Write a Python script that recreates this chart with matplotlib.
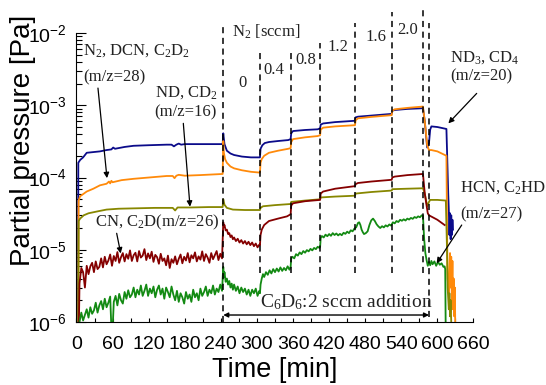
import numpy as np
import matplotlib
matplotlib.use("Agg")
import matplotlib.pyplot as plt
from matplotlib.ticker import MultipleLocator, LogLocator, NullFormatter

plt.rcParams["font.family"] = "Liberation Sans"
plt.rcParams["mathtext.default"] = "regular"

OFF = 5e-7  # below the plotted range: signal not yet up / instrument shut down

# --- m/z=20 (ND3, CD4) ---
t_mz20 = [0, 2.5, 3, 6, 11, 17, 28, 39, 50, 58, 61, 64, 80, 95, 120, 150, 158, 162, 166,
          170, 174, 180, 205, 243, 244, 246, 250, 256, 262, 275, 290, 305, 306, 309, 313,
          320, 335, 352, 356, 357, 360, 380, 401, 405, 406, 410, 430, 463, 464, 468, 490,
          524, 525, 529, 550, 576, 579, 583, 586, 588, 590, 600, 615, 617, 618, 619, 620,
          621, 622, 623, 624, 625, 626]
p_mz20 = [OFF, OFF, 1.6e-4, 1.75e-4, 1.9e-4, 2.2e-4, 2.25e-4, 2.3e-4, 2.4e-4, 2.45e-4,
          2.6e-4, 2.5e-4, 2.65e-4, 2.75e-4, 2.8e-4, 2.85e-4, 2.85e-4, 2.7e-4, 2.85e-4,
          2.95e-4, 2.85e-4, 2.9e-4, 2.9e-4, 2.9e-4, 4.1e-4, 2.9e-4, 2.35e-4, 2.15e-4,
          2.05e-4, 1.95e-4, 1.9e-4, 1.9e-4, 2.5e-4, 2.8e-4, 3.0e-4, 3.1e-4, 3.2e-4,
          3.3e-4, 3.4e-4, 4.1e-4, 4.4e-4, 4.55e-4, 4.65e-4, 4.8e-4, 5.4e-4, 5.6e-4,
          5.85e-4, 6.1e-4, 6.8e-4, 6.95e-4, 7.2e-4, 7.6e-4, 8.4e-4, 8.6e-4, 8.9e-4,
          9.1e-4, 6.0e-4, 2.6e-4, 3.0e-4, 4.6e-4, 5.1e-4, 5.0e-4, 4.7e-4, 1.2e-4, 6e-5,
          3.5e-5, 1.6e-5, 3.2e-5, 1.4e-5, 3.0e-5, 1.6e-5, 2.6e-5, 1.9e-5]

# --- m/z=28 (N2, DCN, C2D2) ---
t_mz28 = [0, 3, 3.5, 6, 17, 28, 39, 50, 54, 56, 58, 60, 75, 95, 120, 150, 160, 163, 166,
          170, 180, 205, 243, 244, 245, 247, 250, 256, 262, 275, 290, 305, 306, 308, 312,
          320, 335, 352, 356, 357, 360, 380, 401, 405, 406, 410, 430, 463, 464, 468, 490,
          524, 525, 529, 550, 576, 579, 583, 586, 590, 600, 615, 616, 617, 619, 620, 621,
          622, 623, 624, 625, 626, 627, 628, 629, 630]
p_mz28 = [OFF, OFF, 4.8e-5, 5.5e-5, 6.4e-5, 7.0e-5, 7.8e-5, 8.2e-5, 8.8e-5, 8.3e-5,
          9.0e-5, 8.6e-5, 9.2e-5, 9.6e-5, 1.0e-4, 1.05e-4, 1.05e-4, 9.8e-5, 1.06e-4,
          1.09e-4, 1.06e-4, 1.08e-4, 1.12e-4, 3.2e-4, 2.2e-4, 1.8e-4, 1.6e-4, 1.42e-4,
          1.34e-4, 1.26e-4, 1.2e-4, 1.17e-4, 1.6e-4, 1.8e-4, 2.0e-4, 2.2e-4, 2.35e-4,
          2.5e-4, 2.55e-4, 3.1e-4, 3.4e-4, 3.6e-4, 3.75e-4, 3.85e-4, 4.6e-4, 4.9e-4,
          5.1e-4, 5.3e-4, 6.2e-4, 6.6e-4, 6.9e-4, 7.3e-4, 8.4e-4, 8.8e-4, 9.2e-4, 9.6e-4,
          6.0e-4, 2.8e-4, 2.4e-4, 2.4e-4, 2.3e-4, 2.0e-4, 2.0e-5, 4e-6, 2.5e-6, 5e-6,
          9e-6, 3e-6, 8e-6, 2e-6, 7e-6, 1.5e-6, 4e-6, 1.2e-6, 3e-6, OFF]

# --- m/z=16 (ND, CD2) ---
t_mz16 = [0, 3, 3.5, 6, 12, 20, 35, 50, 70, 100, 130, 160, 164, 168, 190, 220, 243, 244,
          246, 250, 260, 280, 305, 306, 310, 330, 356, 357, 380, 405, 406, 430, 463, 464,
          490, 524, 525, 550, 576, 579, 583, 586, 588, 600, 614, 616, 617, 619, 620, 621,
          622, 624]
p_mz16 = [OFF, OFF, 2.5e-5, 2.7e-5, 3.0e-5, 3.2e-5, 3.4e-5, 3.6e-5, 3.7e-5, 3.75e-5,
          3.8e-5, 3.8e-5, 3.5e-5, 3.85e-5, 3.85e-5, 3.9e-5, 3.9e-5, 5.0e-5, 4.2e-5,
          3.8e-5, 3.6e-5, 3.55e-5, 3.55e-5, 3.8e-5, 4.0e-5, 4.15e-5, 4.3e-5, 4.6e-5,
          4.8e-5, 5.0e-5, 5.3e-5, 5.45e-5, 5.6e-5, 6.0e-5, 6.3e-5, 6.6e-5, 6.9e-5,
          7.0e-5, 7.1e-5, 6.0e-5, 4.0e-5, 4.6e-5, 4.9e-5, 4.9e-5, 4.8e-5, 1.0e-5, 3e-6,
          1.5e-6, 2.5e-6, 1.2e-6, 2e-6, OFF]

# noisy start of the run, sampled every 3 min (values in units of 1e-6 Pa)
t_early = np.arange(5, 243, 3)

# --- m/z=26 (CN, C2D) ---
p_mz26_early = np.array([
    3.4, 5.6, 4.9, 3.0, 6.0, 4.6, 5.9, 6.6, 4.9, 6.9, 5.4, 5.8, 7.6, 5.7, 8.0, 6.3,
    7.1, 8.6, 6.0, 8.2, 7.0, 9.3, 6.6, 7.9, 9.0, 6.9, 8.7, 7.5, 9.8, 7.0, 8.4, 9.1,
    6.9, 9.6, 7.8, 8.3, 10.2, 7.2, 8.9, 7.6, 9.4, 6.8, 8.5, 7.9, 6.4, 8.8, 7.0, 7.6,
    6.1, 8.3, 5.6, 7.4, 6.6, 8.1, 6.3, 7.5, 8.6, 6.5, 8.0, 7.1, 9.0, 6.7, 8.4, 7.6,
    9.2, 6.9, 8.1, 7.3, 9.5, 7.0, 8.7, 7.8, 6.6, 9.0, 7.4, 8.4, 9.6, 7.2, 8.8, 7.6]) * 1e-6
t_mz26_late = [244, 245, 246, 248, 250, 252, 254, 256, 258, 260, 262, 265, 268, 271, 274,
               277, 280, 283, 286, 289, 292, 295, 298, 301, 304, 305, 306, 308, 312, 320,
               335, 350, 356, 357, 360, 380, 405, 406, 410, 430, 463, 464, 468, 490, 524,
               525, 529, 550, 576, 579, 584, 586, 600, 612]
p_mz26_late = np.array([
    24, 21, 22, 18.5, 19, 16.5, 17, 15, 15.8, 14, 14.8, 13.2, 14.2, 12.6, 13.6, 12.2,
    13.2, 11.9, 12.9, 11.6, 12.6, 11.2, 12.2, 10.8, 11.8, 11.5, 16, 19, 22, 25, 27, 29,
    31, 41, 44, 47, 49, 60, 64, 70, 76, 81, 84, 88, 93, 100, 103, 108, 112, 60, 32, 30,
    26, 22]) * 1e-6

# --- m/z=27 (HCN, C2HD) ---
p_mz27_early = np.array([
    1.0, 1.35, 1.05, 1.25, 1.5, 1.15, 1.6, 1.3, 1.45, 1.85, 1.35, 1.7, 1.95, 1.5, 2.1,
    1.6, 1.85, 2.25, 0.5, 1.9, 2.3, 1.7, 2.45, 2.0, 1.8, 2.6, 2.1, 2.75, 2.2, 2.4, 3.0,
    2.2, 2.8, 2.4, 3.2, 2.3, 2.7, 3.3, 2.3, 2.9, 2.5, 3.1, 2.2, 2.8, 3.2, 2.4, 2.9, 2.1,
    3.0, 2.6, 2.2, 3.1, 2.4, 2.0, 2.7, 1.9, 2.5, 2.2, 1.8, 2.6, 2.1, 2.4, 1.9, 2.8, 2.2,
    2.5, 2.0, 2.9, 2.3, 2.6, 3.1, 2.3, 2.8, 2.5, 3.2, 2.4, 2.9, 2.6, 3.3, 2.7]) * 1e-6
t_mz27_late = [244, 245, 246, 248, 250, 252, 254, 256, 258, 260, 262, 265, 268, 271, 274,
               277, 280, 283, 286, 289, 292, 295, 298, 301, 304, 305, 306, 308, 310, 312,
               315, 318, 321, 324, 327, 330, 333, 336, 339, 342, 345, 348, 351, 354, 356,
               357, 359, 362, 365, 368, 371, 374, 377, 380, 383, 386, 389, 392, 395, 398,
               401, 404, 405, 406, 408, 411, 414, 417, 420, 423, 426, 429, 432, 435, 438,
               441, 444, 447, 450, 453, 456, 459, 462, 465, 468, 470, 472, 474, 476, 478,
               481, 484, 487, 490, 493, 496, 499, 502, 505, 508, 511, 514, 517, 520, 523,
               526, 529, 532, 535, 538, 541, 544, 547, 550, 553, 556, 559, 562, 565, 568,
               571, 574, 576, 578, 580, 582, 584, 586, 588, 590, 592, 595, 598, 601, 604,
               607, 610, 612, 613, 614]
p_mz27_late = np.array([
    5.8, 4.2, 4.9, 3.6, 4.0, 3.3, 3.7, 3.0, 3.4, 2.8, 3.3, 2.7, 3.1, 2.5, 3.0, 2.6,
    2.9, 2.4, 2.8, 2.3, 2.8, 2.5, 2.9, 2.3, 2.7, 2.5, 3.3, 4.0, 4.6, 4.2, 4.9, 4.5,
    5.2, 4.7, 5.4, 4.9, 5.5, 5.0, 5.7, 5.1, 5.6, 5.2, 5.9, 5.3, 5.8, 7.6, 8.0, 7.6,
    8.7, 8.3, 9.2, 8.7, 9.6, 9.1, 9.9, 9.5, 10.3, 9.8, 10.6, 10.2, 11.0, 10.6, 11.0,
    14.5, 15.5, 14.8, 16.2, 15.4, 16.5, 15.6, 17.0, 16.0, 16.8, 15.8, 16.6, 15.9, 17.2,
    16.6, 17.8, 17.0, 18.6, 18.0, 19.6, 20.5, 23.5, 24.0, 22.0, 19.0, 17.5, 16.5, 17.0,
    18.0, 22.0, 25.5, 27.0, 25.0, 22.5, 21.0, 20.0, 21.2, 20.4, 21.8, 21.0, 22.4, 21.6,
    24.0, 23.2, 25.0, 24.2, 26.0, 25.2, 26.4, 25.4, 27.0, 26.2, 27.6, 26.8, 28.4, 27.6,
    29.0, 28.2, 30.0, 29.5, 14.0, 9.0, 7.2, 6.0, 6.8, 6.1, 7.0, 6.3, 6.9, 6.0, 6.8,
    6.2, 6.5, 5.8, 5.9, 5.4, 0.5]) * 1e-6

# N2 flow changes [min] and the flow set after each one [sccm]
n2_switch = [244, 305, 356, 405, 463, 524, 576, 586]
n2_flow = ["0", "0.4", "0.8", "1.2", "1.6", "2.0"]
c6d6_on, c6d6_off = 244, 586

colors = {"mz20": "#0b0b8a", "mz28": "#ff8a0a", "mz16": "#878700",
          "mz26": "#850000", "mz27": "#138a13"}

fig = plt.figure(figsize=(5.46, 3.85), dpi=100)
ax = fig.add_axes([0.1401, 0.1636, 0.7271, 0.7506])

t26 = np.concatenate([[0, 3.5], t_early, t_mz26_late])
p26 = np.concatenate([[OFF, OFF], p_mz26_early, p_mz26_late])
t27 = np.concatenate([[0, 3], t_early, t_mz27_late])
p27 = np.concatenate([[OFF, OFF], p_mz27_early, p_mz27_late])

lw = 1.3
ax.plot(t_mz20, p_mz20, color=colors["mz20"], lw=lw)
ax.plot(t_mz28, p_mz28, color=colors["mz28"], lw=lw)
ax.plot(t_mz16, p_mz16, color=colors["mz16"], lw=lw)
ax.plot(t26, p26, color=colors["mz26"], lw=lw)
ax.plot(t27, p27, color=colors["mz27"], lw=lw)

ax.set_yscale("log")
ax.set_xlim(0, 660)
ax.set_ylim(1e-6, 1e-2)

# dashed markers at each N2 flow change
line_top = [1.29e-2, 5.5e-3, 5.5e-3, 7.2e-3, 1.39e-2, 1.97e-2, 2.2e-2, 1.39e-2]
line_bot = [1e-6, 4.7e-6, 4.7e-6, 4.7e-6, 4.7e-6, 4.7e-6, 4.7e-6, 1.17e-6]
for t, top, bot in zip(n2_switch, line_top, line_bot):
    ax.plot([t, t], [bot, top], color="k", lw=1.1, ls=(0, (4, 3)), clip_on=False)

serif = dict(family="Liberation Serif", fontsize=12, color="#222222")
ax.text(258, 8.9e-3, r"N$_2$ [sccm]", ha="left", va="baseline", **serif)
flow_x = [276, 328, 381, 435, 498, 550]
flow_y = [1.77e-3, 2.71e-3, 3.73e-3, 5.69e-3, 7.82e-3, 9.6e-3]
for lab, x, y in zip(n2_flow, flow_x, flow_y):
    ax.text(x, y, lab, ha="center", va="baseline", **serif)

ax.text(11, 4.96e-3, r"N$_2$, DCN, C$_2$D$_2$", ha="left", va="baseline", **serif)
ax.text(11, 2.12e-3, "(m/z=28)", ha="left", va="baseline", **serif)
ax.text(130, 1.31e-3, r"ND, CD$_2$", ha="left", va="baseline", **serif)
ax.text(130, 6.95e-4, "(m/z=16)", ha="left", va="baseline", **serif)
ax.text(31, 2.08e-5, r"CN, C$_2$D(m/z=26)", ha="left", va="baseline", **serif)
ax.text(621, 4.0e-3, r"ND$_3$, CD$_4$", ha="left", va="baseline", clip_on=False, **serif)
ax.text(621, 2.24e-3, "(m/z=20)", ha="left", va="baseline", clip_on=False, **serif)
ax.text(637, 6.37e-5, r"HCN, C$_2$HD", ha="left", va="baseline", clip_on=False, **serif)
ax.text(638, 2.72e-5, "(m/z=27)", ha="left", va="baseline", clip_on=False, **serif)

arrow = dict(arrowstyle="-|>", color="k", lw=0.9, mutation_scale=8, shrinkA=0, shrinkB=0)
ax.annotate("", xy=(50.7, 9.8e-5), xytext=(35.7, 1.73e-3), arrowprops=arrow)
ax.annotate("", xy=(188.7, 3.95e-5), xytext=(177.6, 5.62e-4), arrowprops=arrow)
ax.annotate("", xy=(73.5, 8.9e-6), xytext=(66.8, 1.69e-5), arrowprops=arrow)
ax.annotate("", xy=(618.2, 5.62e-4), xytext=(665.3, 1.46e-3), arrowprops=arrow,
            annotation_clip=False)
ax.annotate("", xy=(598.8, 6.5e-6), xytext=(640.4, 2.2e-5), arrowprops=arrow,
            annotation_clip=False)

# C6D6 addition period
ax.annotate("", xy=(c6d6_off, 1.25e-6), xytext=(c6d6_on, 1.25e-6),
            arrowprops=dict(arrowstyle="<|-|>", color="k", lw=1.0, mutation_scale=7,
                            shrinkA=0, shrinkB=0))
ax.text(449, 1.62e-6, r"C$_6$D$_6$:2 sccm addition", ha="center", va="baseline",
        family="Liberation Serif", fontsize=14, color="#222222")

ax.xaxis.set_major_locator(MultipleLocator(60))
ax.xaxis.set_minor_locator(MultipleLocator(30))
ax.yaxis.set_major_locator(LogLocator(base=10, numticks=10))
ax.yaxis.set_minor_locator(LogLocator(base=10, subs=np.arange(2, 10), numticks=20))
ax.yaxis.set_minor_formatter(NullFormatter())
ax.tick_params(axis="x", which="both", direction="in", length=3, width=0.8,
               labelsize=14, pad=10)
ax.tick_params(axis="y", which="major", direction="in", length=7, width=0.8,
               labelsize=14, pad=7)
ax.tick_params(axis="y", which="minor", direction="in", length=4, width=0.8)
for side in ("top", "right"):
    ax.spines[side].set_visible(False)

ax.set_xlabel("Time [min]", fontsize=19.5)
ax.xaxis.set_label_coords(0.5, -0.122)
ax.set_ylabel("Partial pressure [Pa]", fontsize=20)
ax.yaxis.set_label_coords(-0.102, 0.63)

fig.savefig("out.png", dpi=100)
